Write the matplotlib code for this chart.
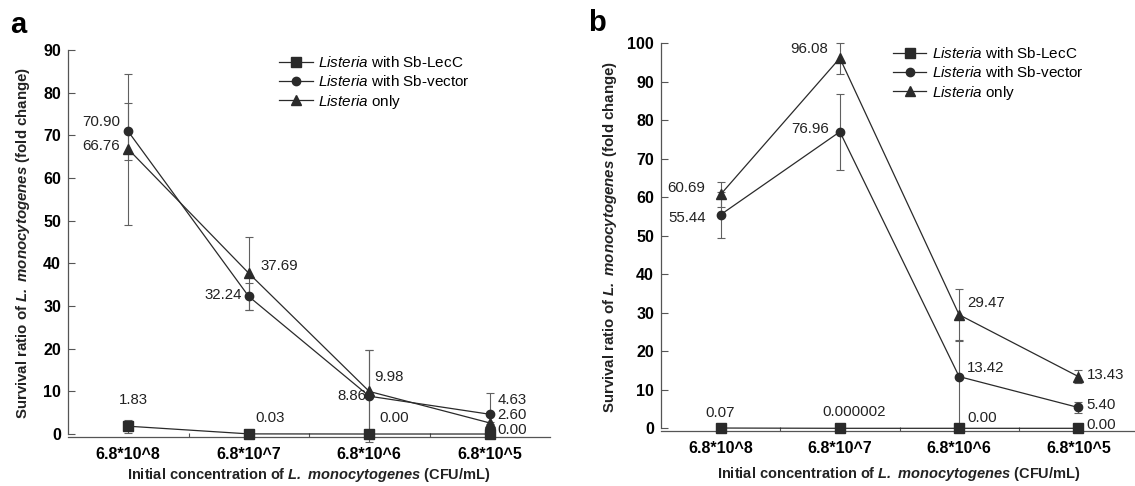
import matplotlib
matplotlib.use("Agg")
import matplotlib.pyplot as plt
from matplotlib.lines import Line2D

plt.rcParams['font.family'] = ['Liberation Sans', 'DejaVu Sans']
plt.rcParams['mathtext.fontset'] = 'custom'
plt.rcParams['mathtext.rm'] = 'Liberation Sans'
plt.rcParams['mathtext.it'] = 'Liberation Sans:italic'
plt.rcParams['mathtext.bf'] = 'Liberation Sans:bold'
plt.rcParams['mathtext.bfit'] = 'Liberation Sans:bold:italic'

# data
cats = ['6.8*10^8', '6.8*10^7', '6.8*10^6', '6.8*10^5']

a_lecc = [1.83, 0.03, 0.00, 0.00]
a_lecc_err = [1.5, 0.0, 0.0, 0.0]
a_vec = [70.90, 32.24, 8.86, 4.63]
a_vec_err = [6.6, 3.2, 10.8, 5.0]
a_only = [66.76, 37.69, 9.98, 2.60]
a_only_err = [17.7, 8.6, 9.8, 0.3]
a_lecc_txt = ['1.83', '0.03', '0.00', '0.00']
a_vec_txt = ['70.90', '32.24', '8.86', '4.63']
a_only_txt = ['66.76', '37.69', '9.98', '2.60']

b_lecc = [0.07, 0.000002, 0.00, 0.00]
b_lecc_err = [0.0, 0.0, 0.0, 0.0]
b_vec = [55.44, 76.96, 13.42, 5.40]
b_vec_err_lo = [6.0, 9.8, 13.42, 1.3]
b_vec_err_hi = [6.0, 9.8, 9.4, 1.3]
b_only = [60.69, 96.08, 29.47, 13.43]
b_only_err = [3.3, 4.0, 6.7, 1.8]
b_lecc_txt = ['0.07', '0.000002', '0.00', '0.00']
b_vec_txt = ['55.44', '76.96', '13.42', '5.40']
b_only_txt = ['60.69', '96.08', '29.47', '13.43']

# label offsets in pixels (dx, dy, ha)
a_lecc_off = [(5, 26, 'center'), (21, 16, 'center'), (25, 16, 'center'), (8, 4, 'left')]
a_vec_off = [(-8, 9, 'right'), (-7, 1, 'right'), (-3, 0, 'right'), (8, 14, 'left')]
a_only_off = [(-8, 3, 'right'), (12, 7, 'left'), (5, 14, 'left'), (8, 8, 'left')]
b_lecc_off = [(0, 15, 'center'), (14, 16, 'center'), (8, 10, 'left'), (8, 3, 'left')]
b_vec_off = [(-15, -3, 'right'), (-11, 3, 'right'), (8, 9, 'left'), (8, 2, 'left')]
b_only_off = [(-15, 6, 'right'), (-12, 9, 'right'), (8, 12, 'left'), (8, 2, 'left')]

line_c = '#2a2a2a'
err_c = '#606060'
spine_c = '#555555'
x = list(range(len(cats)))

fig = plt.figure(figsize=(11.35, 4.86), dpi=100)
ax_a = fig.add_axes([68 / 1135, 49 / 486, 482 / 1135, 387 / 486])
ax_b = fig.add_axes([661 / 1135, 55 / 486, 477 / 1135, 388 / 486])


def draw_panel(ax, series, ytop, yticks):
    for vals, err, mk, ms, txt, off in series:
        ax.errorbar(x, vals, yerr=err, fmt='none', ecolor=err_c, elinewidth=0.8,
                    capsize=3, capthick=0.8, clip_on=False, zorder=2)
        ax.plot(x, vals, marker=mk, ms=ms, color=line_c, lw=0.9, clip_on=False, zorder=3)
        for i in range(len(vals)):
            dx, dy, ha = off[i]
            ax.annotate(txt[i], (x[i], vals[i]), xytext=(dx, dy), textcoords='offset pixels',
                        ha=ha, va='center', fontsize=10.8, color='#222222')
    ax.set_xlim(-0.5, 3.5)
    ax.set_ylim(-0.7, ytop)
    ax.spines['top'].set_visible(False)
    ax.spines['right'].set_visible(False)
    for s in ['left', 'bottom']:
        ax.spines[s].set_color(spine_c)
        ax.spines[s].set_linewidth(0.9)
    ax.spines['left'].set_bounds(0, ytop)
    ax.set_yticks(yticks)
    ax.tick_params(axis='y', direction='in', length=5, width=0.8, color=spine_c, pad=5,
                   labelsize=11.5)
    for lab in ax.get_yticklabels():
        lab.set_fontweight('bold')
    ax.set_xticks([0.5, 1.5, 2.5])
    ax.set_xticklabels([])
    ax.tick_params(axis='x', which='major', direction='in', length=3, width=0.8, color=spine_c)
    ax.set_xticks(x, minor=True)
    ax.set_xticklabels(cats, minor=True, fontsize=11.5, fontweight='bold')
    ax.tick_params(axis='x', which='minor', length=0, pad=7)
    handles = [Line2D([], [], color=line_c, lw=0.9, marker='s', ms=6.5),
               Line2D([], [], color=line_c, lw=0.9, marker='o', ms=6),
               Line2D([], [], color=line_c, lw=0.9, marker='^', ms=6.5)]
    labels = [r'$\mathit{Listeria}$ with Sb-LecC',
              r'$\mathit{Listeria}$ with Sb-vector',
              r'$\mathit{Listeria}$ only']
    return handles, labels


h, l = draw_panel(ax_a, [
    (a_lecc, a_lecc_err, 's', 6.5, a_lecc_txt, a_lecc_off),
    (a_vec, a_vec_err, 'o', 6, a_vec_txt, a_vec_off),
    (a_only, a_only_err, '^', 6.5, a_only_txt, a_only_off),
], 90, range(0, 91, 10))
ax_a.legend(h, l, loc='upper left', bbox_to_anchor=(0.438, 0.987), frameon=False,
            fontsize=11, handlelength=2.2, handletextpad=0.35, labelspacing=0.25,
            borderpad=0, borderaxespad=0)

h, l = draw_panel(ax_b, [
    (b_lecc, b_lecc_err, 's', 6.5, b_lecc_txt, b_lecc_off),
    (b_vec, [b_vec_err_lo, b_vec_err_hi], 'o', 6, b_vec_txt, b_vec_off),
    (b_only, b_only_err, '^', 6.5, b_only_txt, b_only_off),
], 100, range(0, 101, 10))
ax_b.legend(h, l, loc='upper left', bbox_to_anchor=(0.486, 0.992), frameon=False,
            fontsize=11, handlelength=2.2, handletextpad=0.35, labelspacing=0.25,
            borderpad=0, borderaxespad=0)

ylab = r'Survival ratio of $\mathbfit{L.}$ $\mathbfit{monocytogenes}$ (fold change)'
xlab = r'Initial concentration of $\mathbfit{L.}$ $\mathbfit{monocytogenes}$ (CFU/mL)'
fig.text(23 / 1135, 1 - 243 / 486, ylab, rotation=90, ha='center', va='center',
         fontsize=10.8, fontweight='bold', color='#222222')
fig.text(610 / 1135, 1 - 237 / 486, ylab, rotation=90, ha='center', va='center',
         fontsize=10.8, fontweight='bold', color='#222222')
fig.text(309 / 1135, 1 - 475 / 486, xlab, ha='center', va='center',
         fontsize=10.5, fontweight='bold', color='#222222')
fig.text(899 / 1135, 1 - 474 / 486, xlab, ha='center', va='center',
         fontsize=10.5, fontweight='bold', color='#222222')

fig.text(18 / 1135, 1 - 25 / 486, 'a', ha='center', va='center', fontsize=21, fontweight='bold')
fig.text(597 / 1135, 1 - 23 / 486, 'b', ha='center', va='center', fontsize=21, fontweight='bold')

fig.savefig('out.png', dpi=100)
